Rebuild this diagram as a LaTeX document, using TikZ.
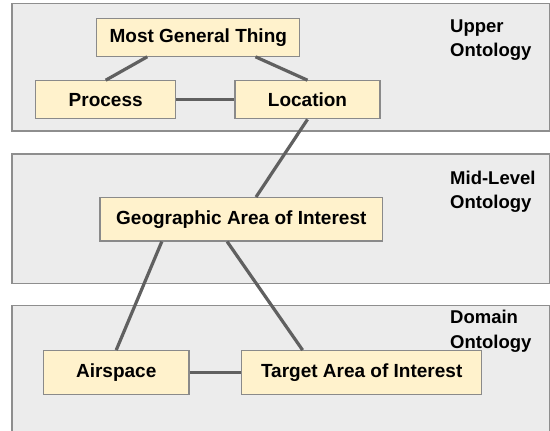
\documentclass[tikz,border=0pt]{standalone}
\usepackage{fontspec}
\setmainfont{Liberation Sans}
\usetikzlibrary{calc}
\definecolor{panelfill}{HTML}{ECECEC}
\definecolor{paneldraw}{HTML}{8E8E8E}
\definecolor{boxfill}{HTML}{FFF2CC}
\definecolor{boxdraw}{HTML}{8A8A8A}
\definecolor{linkgray}{HTML}{606060}
\begin{document}
\begin{tikzpicture}[x=1pt,y=-1pt,
    panel/.style={fill=panelfill,draw=paneldraw,line width=1.3pt},
    box/.style={draw=boxdraw,fill=boxfill,line width=1.2pt,inner sep=0pt,
      font=\fontsize{19}{22}\selectfont\bfseries},
    tag/.style={anchor=north west,inner sep=0pt,align=left,
      font=\fontsize{18.5}{24.5}\selectfont\bfseries},
    link/.style={draw=linkgray,line width=3.2pt}]
    \useasboundingbox (0,0) rectangle (550,431);
    \clip (0,0) rectangle (550,431);
    \fill[white] (0,0) rectangle (550,431);
    % the three layers
    \draw[panel] (12,3.3) rectangle (549.5,131);
    \draw[panel] (12,154) rectangle (549.5,283.3);
    \draw[panel] (12,305.7) rectangle (549.5,440);
    \node[tag] (upper) at (450,19.3) {Upper\\Ontology};
    \node[tag] (mid) at (450,170.7) {Mid-Level\\Ontology};
    \node[tag] (domain) at (450,310) {Domain\\Ontology};
    % concepts
    \node[box,minimum width=203pt,minimum height=38pt] (mgt) at (198.3,37.2) {Most General Thing};
    \node[box,minimum width=140pt,minimum height=38pt] (process) at (105.7,99.8) {Process};
    \node[box,minimum width=145pt,minimum height=38pt] (location) at (307.5,99.8) {Location};
    \node[box,minimum width=282.7pt,minimum height=43.3pt] (gai) at (241.3,219.3) {Geographic Area of Interest};
    \node[box,minimum width=145.7pt,minimum height=43.6pt] (airspace) at (116.2,372.5) {Airspace};
    \node[box,minimum width=240pt,minimum height=43.6pt] (target) at (361.7,372.5) {Target Area of Interest};
    % relations
    \draw[link] ($(mgt.south west)!0.25!(mgt.south east)$) -- (process.north);
    \draw[link] ($(mgt.south west)!0.78!(mgt.south east)$) -- (location.north);
    \draw[link] (process) -- (location);
    \draw[link] (location.south) -- (gai);
    \draw[link] ($(gai.south west)!0.22!(gai.south east)$) -- (airspace.north);
    \draw[link] ($(gai.south west)!0.45!(gai.south east)$) -- ($(target.north west)!0.255!(target.north east)$);
    \draw[link] (airspace) -- (target);
\end{tikzpicture}
\end{document}
